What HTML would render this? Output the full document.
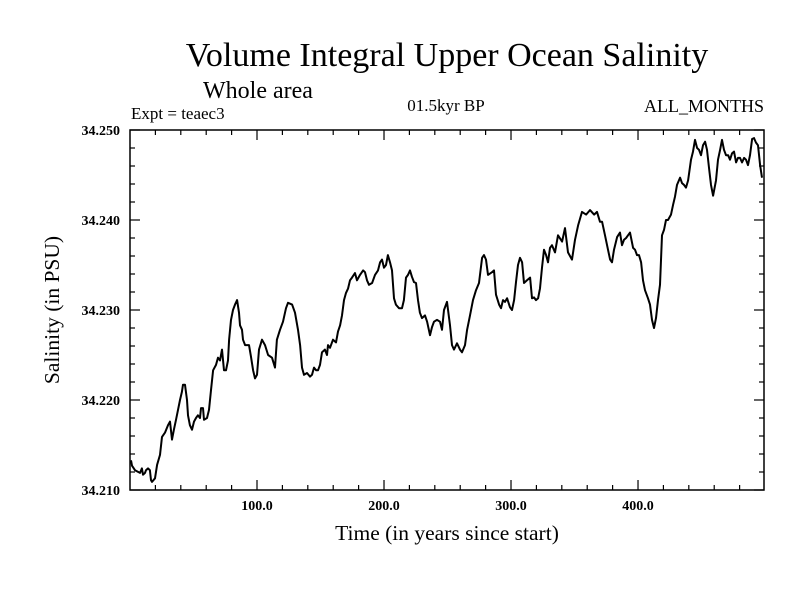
<!DOCTYPE html>
<html><head><meta charset="utf-8">
<style>
html,body{margin:0;padding:0;background:#fff;}
svg{display:block;font-family:"Liberation Serif",serif;}
</style></head>
<body>
<svg id="chart" width="800" height="600">
<text x="447" y="66" font-size="34" text-anchor="middle">Volume Integral Upper Ocean Salinity</text>
<text x="203" y="98" font-size="24">Whole area</text>
<text x="131" y="119" font-size="17">Expt = teaec3</text>
<text x="446" y="111" font-size="17" text-anchor="middle">01.5kyr BP</text>
<text x="764" y="112" font-size="18" text-anchor="end">ALL_MONTHS</text>
<text x="447" y="540" font-size="21.5" text-anchor="middle">Time (in years since start)</text>
<text x="0" y="0" font-size="21.5" text-anchor="middle" transform="translate(59,310) rotate(-90)">Salinity (in PSU)</text>
<g id="axes"></g>
<path id="line" fill="none" stroke="#000" stroke-width="2" stroke-linejoin="round"></path>
</svg>
<script>
const years = [0.8,1.6,3.9,7.9,9.4,10.2,11.8,12.6,14.2,15.7,16.5,17.3,19.7,21.3,23.6,25.2,27.6,29.9,31.5,33.1,34.6,36.2,37.8,39.4,40.9,41.7,43.3,44.9,45.7,47.2,48.8,50.4,52.0,53.5,55.1,55.9,57.5,58.3,60.6,62.2,63.8,65.4,67.7,69.3,70.9,72.4,74.0,75.6,77.2,78.0,79.5,81.1,82.7,84.3,85.8,86.6,88.2,89.0,90.6,92.1,93.7,95.3,96.9,98.4,100.0,101.6,103.9,106.3,108.7,111.8,114.2,115.7,118.1,120.5,122.8,124.4,127.6,129.9,132.3,133.9,135.4,137.0,139.4,141.7,143.3,144.9,146.5,148.0,149.6,151.2,153.5,155.1,155.9,157.5,159.8,162.2,163.8,165.4,166.9,168.5,170.1,171.7,
173.2,174.8,177.2,178.7,181.1,183.5,185.0,186.6,188.2,190.6,192.9,195.3,196.9,198.4,200.0,201.6,203.1,204.7,206.3,207.9,209.4,211.8,214.2,215.7,217.3,218.9,220.5,222.0,223.6,225.2,226.8,228.3,229.9,232.3,233.9,236.2,237.8,239.4,241.7,244.1,245.7,247.2,249.6,252.0,253.5,255.1,257.5,259.8,261.4,263.8,265.4,267.7,270.1,272.4,274.8,277.2,278.7,280.3,281.9,285.0,286.6,288.2,290.6,292.1,293.7,295.3,296.9,299.2,300.8,302.4,303.9,305.5,307.1,308.7,310.2,312.6,315.0,316.5,318.1,319.7,321.3,322.8,324.4,326.0,327.6,329.1,330.7,
332.3,334.6,337.0,340.2,342.5,344.9,348.0,350.4,352.8,355.9,359.1,362.2,365.4,367.7,370.1,371.7,374.0,376.4,378.0,379.5,381.1,383.5,385.8,387.4,389.0,390.6,392.1,393.7,396.1,397.6,399.2,400.8,402.4,403.9,405.5,407.9,409.4,411.0,412.6,414.2,415.7,417.3,418.9,420.5,422.0,423.6,426.0,427.6,429.1,430.7,433.1,434.6,436.2,437.8,439.4,441.7,443.3,444.9,446.5,448.0,449.6,451.2,452.8,454.3,455.9,457.5,459.1,461.4,463.0,464.6,466.1,467.7,469.3,470.9,472.4,474.0,475.6,477.2,478.7,480.3,481.9,483.5,485.0,486.6,488.2,489.8,491.3,492.9,494.5,496.1,497.6,499.2];
const salinity = [34.2133,34.2127,34.2122,34.2119,34.2124,34.2117,34.2119,34.2122,34.2124,34.2122,34.2111,34.2109,34.2113,34.2128,34.2139,34.2159,34.2164,34.2172,34.2176,34.2156,34.2167,34.2178,34.2189,34.2200,34.2209,34.2217,34.2217,34.2200,34.2183,34.2172,34.2167,34.2176,34.2180,34.2183,34.2180,34.2191,34.2191,34.2178,34.2180,34.2189,34.2211,34.2233,34.2239,34.2247,34.2244,34.2256,34.2233,34.2233,34.2244,34.2267,34.2289,34.2300,34.2306,34.2311,34.2297,34.2283,34.2278,34.2267,34.2261,34.2261,34.2261,34.2248,34.2233,34.2224,34.2228,34.2256,34.2267,34.2261,34.2250,34.2247,34.2236,34.2267,34.2278,34.2287,34.2302,34.2308,34.2306,34.2297,34.2278,34.2261,34.2236,34.2228,34.2230,34.2226,34.2228,34.2236,34.2233,34.2233,34.2239,34.2253,34.2256,34.2250,34.2261,34.2258,34.2267,34.2264,34.2276,34.2283,34.2294,34.2311,34.2319,34.2324,
34.2333,34.2336,34.2341,34.2333,34.2339,34.2344,34.2342,34.2333,34.2328,34.2330,34.2339,34.2344,34.2353,34.2356,34.2347,34.2350,34.2361,34.2353,34.2344,34.2313,34.2306,34.2302,34.2302,34.2311,34.2336,34.2339,34.2344,34.2337,34.2331,34.2330,34.2311,34.2297,34.2291,34.2294,34.2287,34.2272,34.2281,34.2287,34.2289,34.2287,34.2278,34.2300,34.2309,34.2283,34.2261,34.2256,34.2263,34.2256,34.2253,34.2261,34.2278,34.2294,34.2311,34.2322,34.2330,34.2358,34.2361,34.2356,34.2339,34.2342,34.2344,34.2317,34.2306,34.2302,34.2311,34.2309,34.2313,34.2303,34.2300,34.2311,34.2331,34.2350,34.2358,34.2353,34.2330,34.2333,34.2336,34.2313,34.2314,34.2311,34.2313,34.2324,34.2347,34.2367,34.2361,34.2353,
34.2369,34.2372,34.2364,34.2383,34.2376,34.2391,34.2364,34.2356,34.2378,34.2394,34.2409,34.2406,34.2411,34.2406,34.2409,34.2398,34.2398,34.2383,34.2367,34.2356,34.2353,34.2367,34.2381,34.2386,34.2372,34.2378,34.2380,34.2383,34.2386,34.2369,34.2367,34.2361,34.2361,34.2353,34.2333,34.2322,34.2313,34.2306,34.2289,34.2280,34.2291,34.2311,34.2328,34.2383,34.2389,34.2400,34.2400,34.2406,34.2417,34.2426,34.2439,34.2447,34.2441,34.2439,34.2436,34.2444,34.2467,34.2476,34.2489,34.2480,34.2478,34.2472,34.2483,34.2487,34.2478,34.2458,34.2439,34.2427,34.2444,34.2467,34.2478,34.2489,34.2478,34.2472,34.2472,34.2467,34.2474,34.2476,34.2464,34.2469,34.2469,34.2464,34.2469,34.2467,34.2461,34.2472,34.2490,34.2491,34.2486,34.2483,34.2461,34.2447];
const xTickValues = [100,200,300,400];
const xTickLabels = ["100.0","200.0","300.0","400.0"];
const yTickValues = [34.21,34.22,34.23,34.24,34.25];
const yTickLabels = ["34.210","34.220","34.230","34.240","34.250"];

const L=130,R=764,T=130,B=490, X0=0,X1=499.2, Y0=34.21,Y1=34.25;
const sx=v=>L+(v-X0)/(X1-X0)*(R-L);
const sy=v=>B-(v-Y0)/(Y1-Y0)*(B-T);
const NS="http://www.w3.org/2000/svg";
const g=document.getElementById('axes');
function mk(tag,attrs){const e=document.createElementNS(NS,tag);for(const k in attrs)e.setAttribute(k,attrs[k]);g.appendChild(e);return e;}
const frame=mk('rect',{x:L,y:T,width:R-L,height:B-T,fill:'none',stroke:'#000','stroke-width':1.5});


for(let v=20;v<X1;v+=20){
  const major=v%100===0, len=major?10:5, x=sx(v);
  const t1=mk('line',{x1:x,y1:B,x2:x,y2:B-len,stroke:'#000','stroke-width':1.2});
  
  
  const t2=mk('line',{x1:x,y1:T,x2:x,y2:T+len,stroke:'#000','stroke-width':1.2});
  
  
}
xTickValues.forEach((v,i)=>{
  const t=mk('text',{x:sx(v),y:B+20,'font-size':14,'font-weight':'bold','text-anchor':'middle'});
  t.textContent=xTickLabels[i];
  
  
});
for(let k=0;k<=20;k++){
  const v=Y0+k*0.002, major=k%5===0, len=major?10:5, y=sy(v);
  const t1=mk('line',{x1:L,y1:y,x2:L+len,y2:y,stroke:'#000','stroke-width':1.2});
  
  
  const t2=mk('line',{x1:R,y1:y,x2:R-len,y2:y,stroke:'#000','stroke-width':1.2});
  
  
}
yTickValues.forEach((v,i)=>{
  const t=mk('text',{x:L-10,y:sy(v)+5,'font-size':14,'font-weight':'bold','text-anchor':'end'});
  t.textContent=yTickLabels[i];
  
  
});
let d='';
years.forEach((yr,i)=>{d+=(i?'L':'M')+sx(yr).toFixed(1)+','+sy(salinity[i]).toFixed(1);});
document.getElementById('line').setAttribute('d',d);
</script>
</body></html>
